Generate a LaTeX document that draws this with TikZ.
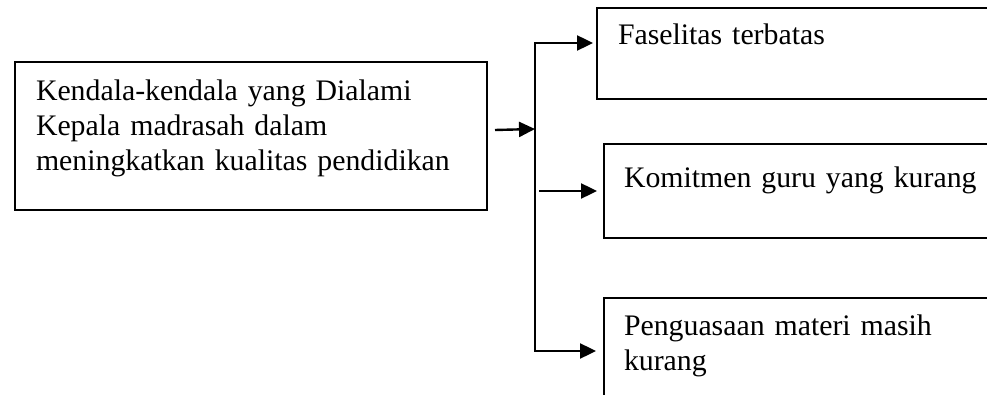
\documentclass[tikz,border=0pt]{standalone}
\usepackage{fontspec}
\setmainfont{Liberation Serif}
\usetikzlibrary{arrows.meta}
\tikzset{
	kotak/.style={draw, line width=2pt, anchor=north west, inner ysep=0pt, align=left, font=\fontsize{29.8}{35}\selectfont},
	panah/.style={line width=2.4pt, -{Triangle[length=16pt, width=15pt]}}
}

\begin{document}
\begin{tikzpicture}[x=1pt, y=-1pt]
	\useasboundingbox (0,0) rectangle (987,395);
	\clip (0,0) rectangle (987,395);
	\node[kotak, inner xsep=21pt, text width=430pt, text height=39pt, text depth=109pt] (main) at (14,61) {Kendala-kendala yang Dialami\\Kepala madrasah dalam\\meningkatkan kualitas pendidikan};
	\node[kotak, inner xsep=21pt, text width=400pt, text height=37pt, text depth=54pt] (fas) at (596,7) {Faselitas terbatas};
	\node[kotak, inner xsep=20pt, text width=400pt, text height=44pt, text depth=50pt] (kom) at (603,143) {Komitmen guru yang kurang};
	\node[kotak, inner xsep=20pt, text width=400pt, text height=37pt, text depth=120pt] (pen) at (603,297) {Penguasaan materi masih\\kurang};
	\coordinate (fork top) at (535,43);
	\coordinate (fork bottom) at (535,351);
	\coordinate (fork in) at (535,129);
	\draw[panah] ([shift={(7,-6)}]main.east) -- (fork in);
	\draw[panah, shorten >=3pt] (fork bottom) -- (fork top) -- (fork top -| fas.west);
	\draw[panah, shorten >=6pt] ([xshift=4pt]kom.west -| fork top) -- (kom.west);
	\draw[panah, shorten >=7pt, line cap=rect] (fork bottom) -- (fork bottom -| pen.west);
\end{tikzpicture}
\end{document}
